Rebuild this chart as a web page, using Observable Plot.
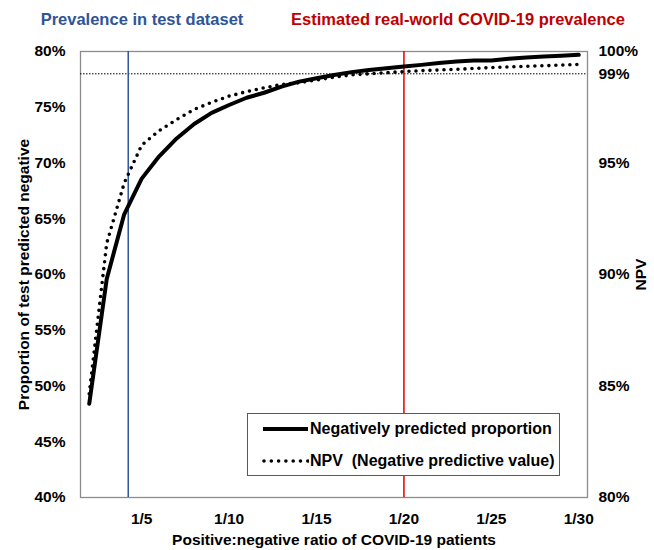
<!DOCTYPE html>
<html><head><meta charset="utf-8">
<script src="https://cdn.jsdelivr.net/npm/d3@7"></script>
<script src="https://cdn.jsdelivr.net/npm/@observablehq/plot@0.6"></script>
<style>
body{margin:0;background:#fff;font-family:"Liberation Sans",Arial,sans-serif;font-weight:bold;}
#wrap{position:relative;width:654px;height:550px;}
.t{position:absolute;top:10px;font-size:16.5px;white-space:nowrap;transform:translateX(-50%);}
#legend{position:absolute;left:247px;top:413px;width:313px;height:63px;border:1px solid #595959;background:#fff;box-sizing:border-box;font-size:16px;}
.row{position:absolute;left:14px;display:flex;align-items:center;height:20px;white-space:nowrap;}
.row svg{margin-right:1px;}
</style></head>
<body>
<div id="wrap"></div>
<script>
// ---- data ----
const ratios = [2,3,4,5,6,7,8,9,10,11,12,13,14,15,16,17,18,19,20,21,22,23,24,25,26,27,28,29,30];
const proportion = [48.4,59.6,65.4,68.6,70.6,72.2,73.5,74.5,75.2,75.85,76.3,76.85,77.3,77.6,77.9,78.15,78.35,78.5,78.65,78.8,78.97,79.1,79.2,79.2,79.35,79.47,79.55,79.62,79.7];
const npv = [84.65,91.4,94.1,95.8,96.45,96.95,97.4,97.72,98.0,98.2,98.37,98.52,98.6,98.72,98.85,98.95,99.0,99.05,99.1,99.14,99.17,99.2,99.24,99.28,99.31,99.34,99.36,99.39,99.42];
const xTicks = [5,10,15,20,25,30];
const leftTicks = [40,45,50,55,60,65,70,75,80];
const rightTicks = [80,85,90,95,99,100];
const npvThreshold = [99];
const testPrevalence = [4.23];
const realWorldPrevalence = [20];
const titles = ["Prevalence in test dataset","Estimated real-world COVID-19 prevalence"];
const legendLabels = ["Negatively predicted proportion","NPV\u00a0 (Negative predictive value)"];

const blue = "#2F5597", red = "#E00000", redText = "#C00000";

// map NPV (80-100) onto the left scale (40-80)
const toLeft = v => 40 + (v - 80) * 2;
const fromLeft = y => (y - 40) / 2 + 80;
const rows = ratios.map((r, i) => ({r, p: proportion[i], n: toLeft(npv[i])}));

const chart = Plot.plot({
  width: 654, height: 550,
  marginLeft: 80, marginRight: 67, marginTop: 51, marginBottom: 53,
  style: {fontFamily: "'Liberation Sans', Arial, sans-serif", fontSize: "15.5px", fontWeight: "bold", color: "#000", background: "white", overflow: "visible"},
  x: {domain: [1.5, 30.5]},
  y: {domain: [40, 80]},
  marks: [
    Plot.frame({stroke: "#8c8c8c", strokeWidth: 1.3}),
    Plot.axisX({ticks: xTicks, tickFormat: d => "1/" + d, tickSize: 0, tickPadding: 15,
      label: "Positive:negative ratio of COVID-19 patients", labelAnchor: "center", labelArrow: "none", labelOffset: 47}),
    Plot.axisY({ticks: leftTicks, tickFormat: d => d + "%", tickSize: 0, tickPadding: 15,
      label: "Proportion of test predicted negative", labelAnchor: "center", labelArrow: "none", labelOffset: 63}),
    Plot.axisY({anchor: "right", ticks: rightTicks.map(toLeft), tickFormat: d => fromLeft(d) + "%", tickSize: 0, tickPadding: 11,
      label: "NPV", labelAnchor: "center", labelArrow: "none", labelOffset: 58}),
    Plot.ruleY(npvThreshold.map(toLeft), {stroke: "black", strokeWidth: 1, strokeDasharray: "1.5 1.5"}),
    Plot.ruleX(testPrevalence, {stroke: blue, strokeWidth: 1.5}),
    Plot.ruleX(realWorldPrevalence, {stroke: red, strokeWidth: 1.5}),
    Plot.line(rows, {x: "r", y: "n", stroke: "black", strokeWidth: 3.6, strokeDasharray: "0 7", strokeLinecap: "round"}),
    Plot.line(rows, {x: "r", y: "p", stroke: "black", strokeWidth: 4})
  ]
});
const wrap = document.getElementById("wrap");
wrap.appendChild(chart);

// titles
const t1 = document.createElement("div");
t1.className = "t"; t1.style.left = "142px"; t1.style.color = blue; t1.textContent = titles[0];
const t2 = document.createElement("div");
t2.className = "t"; t2.style.left = "458px"; t2.style.color = redText; t2.textContent = titles[1];
wrap.appendChild(t1); wrap.appendChild(t2);

// legend
const lg = document.createElement("div");
lg.id = "legend";
lg.innerHTML = `
 <div class="row" style="top:5px"><svg width="47" height="8"><line x1="1" x2="46" y1="4" y2="4" stroke="black" stroke-width="4"/></svg><span>${legendLabels[0]}</span></div>
 <div class="row" style="top:37px"><svg width="47" height="8"><line x1="2" x2="46" y1="4" y2="4" stroke="black" stroke-width="3.6" stroke-dasharray="0 7.3" stroke-linecap="round"/></svg><span>${legendLabels[1]}</span></div>`;
wrap.appendChild(lg);
</script>
</body></html>
